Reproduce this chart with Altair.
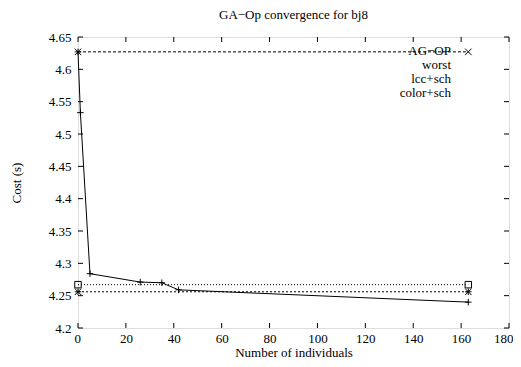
import altair as alt
import pandas as pd

FONT = "Liberation Serif"

chart_title = "GA−Op convergence for bj8"
x_title = "Number of individuals"
y_title = "Cost (s)"

series_names = ["AG−OP", "worst", "lcc+sch", "color+sch"]

ag_x = [0, 1, 5, 26, 35, 42, 163]
ag_y = [4.627, 4.533, 4.284, 4.271, 4.270, 4.259, 4.240]
worst_x = [0, 163]
worst_y = [4.627, 4.627]
lcc_x = [0, 163]
lcc_y = [4.256, 4.256]
color_x = [0, 163]
color_y = [4.267, 4.267]

x_ticks = [0, 20, 40, 60, 80, 100, 120, 140, 160, 180]
y_ticks = [4.2, 4.25, 4.3, 4.35, 4.4, 4.45, 4.5, 4.55, 4.6, 4.65]

W, H = 431, 291
TICK = 5

# styles
dashes = {"AG−OP": None, "worst": [3, 2], "lcc+sch": [2, 2], "color+sch": [1, 2]}
plus = "M-1,0H1M0,-1V1"
cross = "M-1,-1L1,1M-1,1L1,-1"
markers = {
    "AG−OP": plus,
    "worst": cross,
    "lcc+sch": plus + cross,
    "color+sch": "M-1,-1H1V1H-1Z",
}

LEG_SIZE = 100          # legend symbol size -> 5 px per path unit
U = 5.0
HALF = 19.0 / U         # half length of the legend sample line
m = 3.5 / U             # marker half size


def legend_path(name):
    d = dashes[name]
    if d is None:
        line = f"M{-HALF:.3f},0H{HALF:.3f}"
    else:
        on, off = d
        pos = -HALF
        segs = []
        while pos < HALF:
            end = min(pos + on / U, HALF)
            segs.append(f"M{pos:.3f},0H{end:.3f}")
            pos = end + off / U
        line = "".join(segs)
    p = f"M{-m:.3f},0H{m:.3f}M0,{-m:.3f}V{m:.3f}"
    x = f"M{-m:.3f},{-m:.3f}L{m:.3f},{m:.3f}M{-m:.3f},{m:.3f}L{m:.3f},{-m:.3f}"
    sq = f"M{-m:.3f},{-m:.3f}H{m:.3f}V{m:.3f}H{-m:.3f}Z"
    mp = {"AG−OP": p, "worst": x, "lcc+sch": p + x, "color+sch": sq}[name]
    return line + mp


series_data = {
    "AG−OP": (ag_x, ag_y),
    "worst": (worst_x, worst_y),
    "lcc+sch": (lcc_x, lcc_y),
    "color+sch": (color_x, color_y),
}

x_scale = alt.Scale(domain=[0, 180], nice=False, zero=False)
y_scale = alt.Scale(domain=[4.2, 4.65], nice=False, zero=False)

X = alt.X(
    "x:Q",
    scale=x_scale,
    axis=alt.Axis(
        values=x_ticks, title=x_title, ticks=False, domain=False, grid=False,
        labelFont=FONT, labelFontSize=13, labelColor="black", labelPadding=4,
        titleFont=FONT, titleFontSize=13, titleFontWeight="normal", titleColor="black",
        titlePadding=1, labelFlush=True, labelFlushOffset=4,
    ),
)
Y = alt.Y(
    "y:Q",
    scale=y_scale,
    axis=alt.Axis(
        values=y_ticks, format="~g", title=y_title, ticks=False, domain=False, grid=False,
        labelFont=FONT, labelFontSize=13, labelColor="black", labelPadding=7,
        titleFont=FONT, titleFontSize=13, titleFontWeight="normal", titleColor="black",
        titlePadding=25, labelFlush=False,
    ),
)

layers = []
for name in series_names:
    xs, ys = series_data[name]
    df = pd.DataFrame({"x": xs, "y": ys})
    line_kwargs = dict(color="black", strokeWidth=1)
    if dashes[name] is not None:
        line_kwargs["strokeDash"] = dashes[name]
    layers.append(alt.Chart(df).mark_line(**line_kwargs).encode(x=X, y=Y))
    layers.append(
        alt.Chart(df)
        .mark_point(shape=markers[name], filled=False, size=42, strokeWidth=1, color="black", opacity=1)
        .encode(x=X, y=Y)
    )

# inward ticks on all four sides
xt = pd.DataFrame({"x": x_ticks})
yt = pd.DataFrame({"y": y_ticks})
rule = dict(color="black", strokeWidth=1)
layers.append(alt.Chart(xt).mark_rule(**rule).encode(x=X, y=alt.value(H), y2=alt.value(H - TICK)))
layers.append(alt.Chart(xt).mark_rule(**rule).encode(x=X, y=alt.value(0), y2=alt.value(TICK)))
layers.append(alt.Chart(yt).mark_rule(**rule).encode(y=Y, x=alt.value(0), x2=alt.value(TICK)))
layers.append(alt.Chart(yt).mark_rule(**rule).encode(y=Y, x=alt.value(W), x2=alt.value(W - TICK)))

# legend (gnuplot style: label left, sample right)
legend_df = pd.DataFrame({"series": series_names})
legend_layer = (
    alt.Chart(legend_df)
    .transform_filter("false")
    .mark_point(filled=False, strokeWidth=1, color="black")
    .encode(
        shape=alt.Shape(
            "series:N",
            scale=alt.Scale(domain=series_names, range=[legend_path(n) for n in series_names]),
            legend=alt.Legend(
                title=None, orient="none", legendX=393, legendY=8,
                labelAlign="right", labelOffset={"expr": "-33"}, labelFont=FONT, labelFontSize=13,
                labelColor="black", labelLimit=0, symbolSize=LEG_SIZE, symbolStrokeWidth=1,
                symbolStrokeColor="black", symbolFillColor="transparent",
                rowPadding=0, padding=0, clipHeight=11,
            ),
        )
    )
)
layers.append(legend_layer)

chart = (
    alt.layer(*layers)
    .properties(
        width=W,
        height=H,
        title=alt.Title(chart_title, font=FONT, fontSize=13, fontWeight="normal", color="black", offset=9),
        autosize=alt.AutoSizeParams(type="none"),
        padding={"left": 70, "top": 29, "right": 4, "bottom": 31},
    )
    .configure_view(stroke="black", strokeWidth=1)
    .configure(background="white")
)

chart.save("out.html", embed_options={"renderer": "svg", "actions": False})
